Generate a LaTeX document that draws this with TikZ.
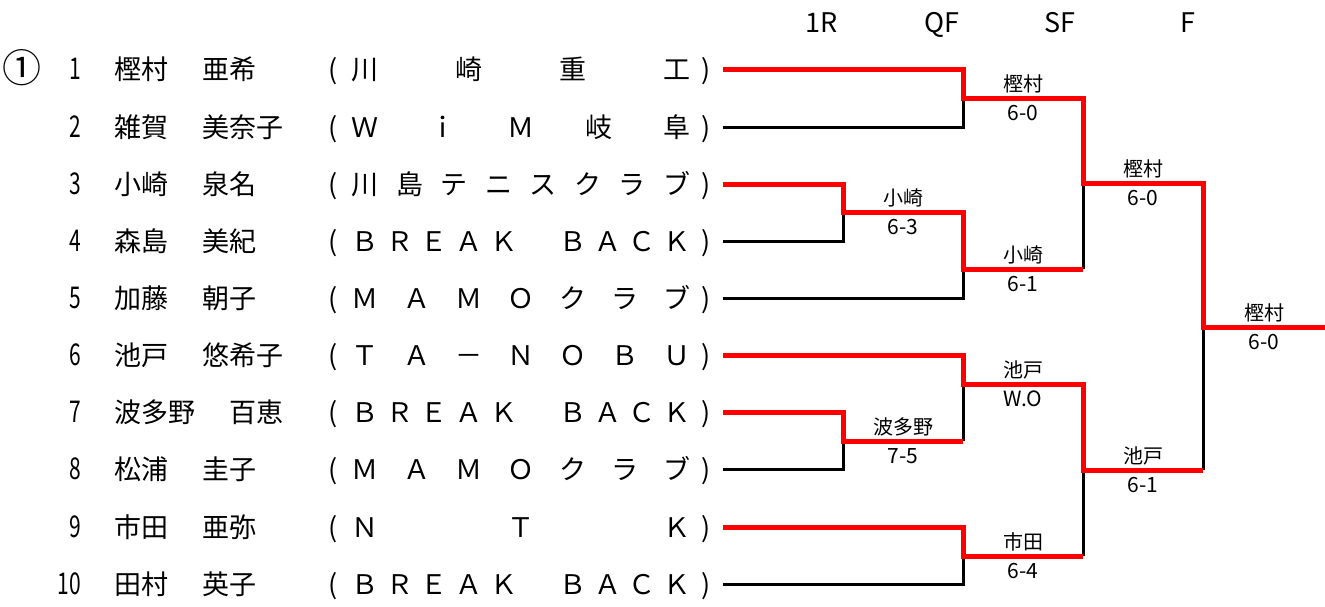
\documentclass[tikz,border=0pt]{standalone}
\usepackage{fontspec}
\usepackage{graphicx}
\setmainfont{Noto Sans CJK JP}
\newcommand\nar[1]{\scalebox{0.7}[1]{#1}}
\tikzset{
  bk/.style={line width=3pt, black, line join=miter},
  rd/.style={line width=5pt, red, line join=miter},
  lt/.style={inner sep=0pt, anchor=base, font=\fontsize{27}{30}\selectfont},
  nu/.style={inner sep=0pt, anchor=base east, font=\fontsize{30}{32}\selectfont},
  lb/.style={inner sep=0pt, anchor=base, font=\fontsize{20}{22}\selectfont},
  sc/.style={inner sep=0pt, anchor=base, font=\fontsize{21}{23}\selectfont},
  hd/.style={inner sep=0pt, anchor=base, font=\fontsize{27}{30}\selectfont},
  sd/.style={inner sep=0pt, anchor=base, font=\fontsize{39}{40}\selectfont},
}
\newcommand\player[5]{%
  \node[nu] (n#1) at (81,#2+10.5) {\nar{#1}};
  \node[lt, anchor=base west] (fa#1) at (114,#2+10) {#3};
  \node[lt, anchor=base west] (gi#1) at (#4,#2+10) {#5};
}
\newcommand\club[4]{%
  \node[lt] (po#1) at (333,#2+10) {(};
  \node[lt] (pc#1) at (706,#2+10) {)};
  \foreach \ii/\ch in {#4} {\node[lt] (c#1-\ii) at ({365+\ii*312/#3},#2+10) {\ch};}
}
\newcommand\res[5]{%
  \node[lb] (#1n) at (#2,#3-6.5) {#4};
  \node[sc] (#1s) at (#2,#3+22.5) {#5};
}
\begin{document}
\begin{tikzpicture}[x=1pt,y=-1pt]
\useasboundingbox (0,0) rectangle (1325,606);
% headers
\node[hd] (h1) at (822,32) {1R};
\node[hd] (h2) at (942,32) {QF};
\node[hd] (h3) at (1060,32) {SF};
\node[hd] (h4) at (1188,32) {F};
% seed mark
\node[sd] (seed) at (22,82) {①};
% players
\player{1}{69}{樫村}{202}{亜希}
\player{2}{127}{雑賀}{202}{美奈子}
\player{3}{184}{小崎}{202}{泉名}
\player{4}{241}{森島}{202}{美紀}
\player{5}{298}{加藤}{202}{朝子}
\player{6}{355}{池戸}{202}{悠希子}
\player{7}{412}{波多野}{229}{百恵}
\player{8}{469}{松浦}{202}{圭子}
\player{9}{527}{市田}{202}{亜弥}
\player{10}{584}{田村}{202}{英子}
% clubs
\club{1}{69}{3}{0/川,1/崎,2/重,3/工}
\club{2}{127}{4}{0/Ｗ,1/ｉ,2/Ｍ,3/岐,4/阜}
\club{3}{184}{7}{0/川,1/島,2/テ,3/ニ,4/ス,5/ク,6/ラ,7/ブ}
\club{4}{241}{9}{0/Ｂ,1/Ｒ,2/Ｅ,3/Ａ,4/Ｋ,6/Ｂ,7/Ａ,8/Ｃ,9/Ｋ}
\club{5}{298}{6}{0/Ｍ,1/Ａ,2/Ｍ,3/Ｏ,4/ク,5/ラ,6/ブ}
\club{6}{355}{6}{0/Ｔ,1/Ａ,2/－,3/Ｎ,4/Ｏ,5/Ｂ,6/Ｕ}
\club{7}{412}{9}{0/Ｂ,1/Ｒ,2/Ｅ,3/Ａ,4/Ｋ,6/Ｂ,7/Ａ,8/Ｃ,9/Ｋ}
\club{8}{469}{6}{0/Ｍ,1/Ａ,2/Ｍ,3/Ｏ,4/ク,5/ラ,6/ブ}
\club{9}{527}{2}{0/Ｎ,1/Ｔ,2/Ｋ}
\club{10}{584}{9}{0/Ｂ,1/Ｒ,2/Ｅ,3/Ａ,4/Ｋ,6/Ｂ,7/Ａ,8/Ｃ,9/Ｋ}
% bracket coordinates
\foreach \k/\yy in {1/69,2/127,3/184,4/241,5/298,6/355,7/412,8/469,9/527,10/584}
  {\coordinate (s\k) at (723,\yy);}
\coordinate (r1) at (843,212);
\coordinate (r2) at (843,441);
\coordinate (q1) at (963,98);
\coordinate (q2) at (963,269);
\coordinate (q3) at (963,384);
\coordinate (q4) at (963,556);
\coordinate (f1) at (1083,183);
\coordinate (f2) at (1083,470);
\coordinate (w) at (1203,327);
\coordinate (e) at (1325,327);
% losers (black)
\draw[bk] (s2) -- (s2 -| q1) -- (q1);
\draw[bk] (s4) -- (s4 -| r1) -- (r1);
\draw[bk] (s5) -- (s5 -| q2) -- (q2);
\draw[bk] (s8) -- (s8 -| r2) -- (r2);
\draw[bk] (s10) -- (s10 -| q4) -- (q4);
\draw[bk] (r2 -| q3) -- (q3);
\draw[bk] (q2 -| f1) -- (f1);
\draw[bk] (q4 -| f2) -- (f2);
\draw[bk] (f2 -| w) -- (w);
% winners (red)
\draw[rd] (s1) -- (s1 -| q1) -- (q1) -- (q1 -| f1) -- (f1) -- (f1 -| w) -- (w) -- (e);
\draw[rd] (s3) -- (s3 -| r1) -- (r1) -- (r1 -| q2) -- (q2) -- (q2 -| f1);
\draw[rd] (s6) -- (s6 -| q3) -- (q3) -- (q3 -| f2) -- (f2) -- (f2 -| w);
\draw[rd] (s7) -- (s7 -| r2) -- (r2) -- (r2 -| q3);
\draw[rd] (s9) -- (s9 -| q4) -- (q4) -- (q4 -| f2);
% results
\res{m1}{903}{212}{小崎}{6-3}
\res{m2}{903}{441}{波多野}{7-5}
\res{m3}{1023}{98}{樫村}{6-0}
\res{m4}{1023}{269}{小崎}{6-1}
\res{m5}{1023}{384}{池戸}{W.O}
\res{m6}{1023}{556}{市田}{6-4}
\res{m7}{1143}{183}{樫村}{6-0}
\res{m8}{1143}{470}{池戸}{6-1}
\res{m9}{1264}{327}{樫村}{6-0}
\end{tikzpicture}
\end{document}
